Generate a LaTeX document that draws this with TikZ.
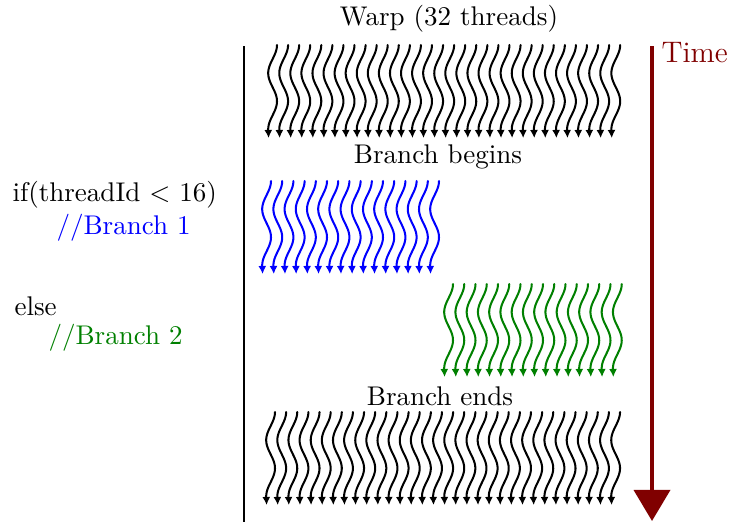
\documentclass[tikz,border=0pt]{standalone}
\usetikzlibrary{arrows.meta}

\definecolor{timered}{RGB}{128,0,0}
\definecolor{branchblue}{RGB}{0,0,255}
\definecolor{branchgreen}{RGB}{0,128,0}

\tikzset{
  threadline/.style={line width=0.75pt, line cap=round,
    -{Latex[length=3pt,width=3pt]}},
  label/.style={inner sep=0pt, font=\normalsize},
  % one wavy thread hanging down from its top point
  pics/thread/.style={code={
    \draw[threadline] plot[domain=0:87, samples=50, smooth]
      ({-4.4+4.4*cos(6.4*\x)}, {\x}) -- (-8.4, 93);
  }}
}

\begin{document}
\begin{tikzpicture}[x=0.37pt, y=-0.37pt]
  \useasboundingbox (0,0) rectangle (729,522);

  % warp axis
  \draw[line width=0.9pt] (244,46) -- (244,522);

  % time axis
  \draw[timered, line width=1.5pt,
        -{Triangle[width=13.3pt,length=11.5pt]}] (652,46) -- (652,521);
  \node[label, anchor=west, text=timered, font=\fontsize{11}{13}\selectfont]
    (time) at (661,53) {Time};

  % headings
  \node[label] (warp) at (449,19) {Warp (32 threads)};
  \node[label] (begins) at (438,157) {Branch begins};
  \node[label] (ends) at (440,396) {Branch ends};

  % code on the left
  \node[label, anchor=west] (cond) at (12,195) {if(threadId $<$ 16)};
  \node[label, anchor=west, text=branchblue] (b1) at (56,228) {//Branch 1};
  \node[label, anchor=west] (else) at (14,306) {else};
  \node[label, anchor=west, text=branchgreen] (b2) at (48,338) {//Branch 2};

  % whole warp before the branch
  \foreach \i in {0,...,31}
    \pic[black] at ({277+11.07*\i}, 45) {thread};

  % branch 1: first half of the warp
  \foreach \i in {0,...,15}
    \pic[branchblue] at ({271+11.2*\i}, 181) {thread};

  % branch 2: second half of the warp
  \foreach \i in {0,...,15}
    \pic[branchgreen] at ({453+11.25*\i}, 284) {thread};

  % whole warp after the branch
  \foreach \i in {0,...,31}
    \pic[black] at ({275+11.13*\i}, 412) {thread};
\end{tikzpicture}
\end{document}
